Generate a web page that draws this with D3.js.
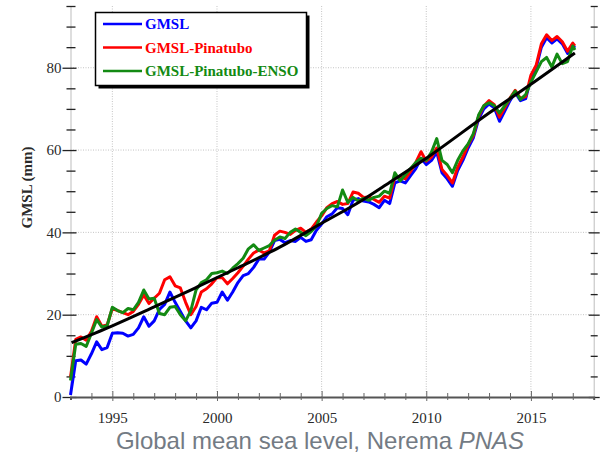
<!DOCTYPE html>
<html>
<head>
<meta charset="utf-8">
<title>Global mean sea level</title>
<script src="https://d3js.org/d3.v7.min.js"></script>
<style>
  body { margin: 0; background: #fff; }
  .tick text { font-family: "Liberation Serif", "Times New Roman", serif; font-size: 15px; fill: #2a2a2a; }
  .grid line { stroke: #c4c4c4; stroke-width: 1; stroke-dasharray: 1,1.5; }
  .series { fill: none; stroke-width: 3; stroke-linejoin: round; }
</style>
</head>
<body>
<svg id="chart" width="605" height="455"></svg>
<script>
// time axis of the series (quarterly readings)
const years = [
  1993, 1993.25, 1993.5, 1993.75, 1994, 1994.25, 1994.5, 1994.75,
  1995, 1995.25, 1995.5, 1995.75, 1996, 1996.25, 1996.5, 1996.75,
  1997, 1997.25, 1997.5, 1997.75, 1998, 1998.25, 1998.5, 1998.75,
  1999, 1999.25, 1999.5, 1999.75, 2000, 2000.25, 2000.5, 2000.75,
  2001, 2001.25, 2001.5, 2001.75, 2002, 2002.25, 2002.5, 2002.75,
  2003, 2003.25, 2003.5, 2003.75, 2004, 2004.25, 2004.5, 2004.75,
  2005, 2005.25, 2005.5, 2005.75, 2006, 2006.25, 2006.5, 2006.75,
  2007, 2007.25, 2007.5, 2007.75, 2008, 2008.25, 2008.5, 2008.75,
  2009, 2009.25, 2009.5, 2009.75, 2010, 2010.25, 2010.5, 2010.75,
  2011, 2011.25, 2011.5, 2011.75, 2012, 2012.25, 2012.5, 2012.75,
  2013, 2013.25, 2013.5, 2013.75, 2014, 2014.25, 2014.5, 2014.75,
  2015, 2015.25, 2015.5, 2015.75, 2016, 2016.25, 2016.5, 2016.75,
  2017, 2017.1
];

const gmsl = [
  0.5, 8.8, 9.0, 8.0, 10.5, 13.4, 11.5, 12.0,
  15.5, 15.6, 15.5, 14.8, 15.2, 16.8, 19.5, 17.2,
  18.5, 21.3, 22.5, 25.5, 23.0, 20.8, 18.5, 16.8,
  18.5, 21.8, 21.2, 22.8, 23.0, 25.5, 23.5, 25.5,
  27.8, 29.5, 30.0, 31.5, 33.5, 33.5, 35.2, 38.0,
  38.3, 37.5, 38.0, 37.8, 38.8, 37.8, 38.2, 40.5,
  42.0, 43.8, 44.5, 46.0, 45.8, 44.3, 47.8, 48.2,
  47.6, 47.4, 46.8, 46.0, 47.8, 47.0, 52.0, 52.5,
  52.0, 53.8, 55.5, 58.0, 56.5, 57.5, 59.5, 54.5,
  53.0, 51.2, 55.0, 57.5, 60.5, 63.0, 67.5, 70.0,
  71.2, 70.3, 67.0, 69.5, 72.0, 74.0, 72.0, 72.5,
  77.5, 80.0, 85.0, 87.3, 86.0, 87.0, 85.8, 83.5,
  85.5, 84.8
];

const gmslPinatubo = [
  4.8, 14.0, 14.6, 13.8, 16.0, 19.5, 17.2, 17.5,
  21.5, 21.0, 20.5, 20.0, 20.8, 22.5, 24.8, 22.7,
  24.0, 25.2, 28.5, 29.2, 27.0, 26.5, 23.0, 20.0,
  22.0, 25.5, 26.3, 27.5, 29.0, 29.0, 27.5, 28.8,
  30.2, 31.8, 33.5, 35.0, 35.7, 35.0, 35.5, 39.3,
  40.3, 40.0, 39.5, 40.5, 41.0, 40.0, 40.8, 42.5,
  44.0, 46.0, 47.0, 47.5, 46.8, 47.0, 49.8, 49.5,
  48.5, 48.6, 48.0, 47.3, 48.8, 48.3, 53.6, 53.5,
  53.0, 54.8, 57.0, 59.6, 57.3, 58.3, 60.5, 55.3,
  53.8, 52.0, 55.8, 58.3, 61.3, 63.6, 68.2, 70.7,
  72.0, 71.0, 68.0, 70.3, 72.6, 74.5, 72.5, 73.0,
  78.2, 80.6, 85.8, 88.0, 86.6, 87.6, 86.3, 84.0,
  86.0, 85.3
];

const gmslPinatuboEnso = [
  4.0, 12.8, 13.0, 12.3, 15.5, 18.8, 17.0, 17.3,
  21.8, 21.0, 20.5, 21.5, 21.2, 23.0, 26.0, 23.8,
  24.0, 20.3, 20.0, 21.8, 22.0, 20.0, 18.5, 21.0,
  26.0, 27.8, 28.5, 30.0, 30.2, 30.6, 30.0, 31.3,
  32.4, 33.7, 36.0, 37.0, 35.6, 36.2, 36.8, 38.1,
  38.9, 38.5, 40.0, 40.8, 40.0, 39.2, 40.2, 41.5,
  44.6, 45.8, 46.5, 46.2, 50.3, 47.3, 48.5, 47.6,
  48.3, 47.8, 48.5, 48.8, 50.0, 49.5, 54.5, 52.5,
  54.0, 55.5, 57.0, 58.0, 57.5, 59.5, 62.8, 57.5,
  56.5, 54.5, 57.5, 59.8, 61.5, 64.0, 68.5, 70.8,
  71.5, 70.8, 69.0, 70.8, 72.5, 74.3, 72.3, 73.5,
  76.5, 79.0, 81.5, 82.5, 80.2, 83.3, 81.0, 81.5,
  85.3, 84.3
];

// fitted trend (black curve)
const trendYears = [1993.05, 1995, 1997, 1999, 2001, 2003, 2005, 2007, 2008, 2010, 2013, 2015, 2017.1];
const trendValues = [13.2, 17.3, 21.9, 26.6, 31.4, 36.4, 42.2, 48.0, 51.3, 58.0, 69.0, 76.0, 83.6];

const yearTicks = [1995, 2000, 2005, 2010, 2015];
const yMajorTicks = [0, 20, 40, 60, 80];
const legendLabels = ["GMSL", "GMSL-Pinatubo", "GMSL-Pinatubo-ENSO"];
const legendColors = ["#0000ff", "#ff0000", "#138a13"];

const svg = d3.select("#chart");

const x = d3.scaleLinear().domain([1993, 2018]).range([70.5, 593.7]);
const y = d3.scaleLinear().domain([0, 95]).range([397, 6]);

// dotted grid
const grid = svg.append("g").attr("class", "grid");
grid.selectAll(".vg").data(yearTicks).enter().append("line")
  .attr("x1", d => x(d)).attr("x2", d => x(d))
  .attr("y1", y(0)).attr("y2", y(95));
grid.selectAll(".hg").data(yMajorTicks.filter(d => d > 0)).enter().append("line")
  .attr("x1", x(1993)).attr("x2", x(2018))
  .attr("y1", d => y(d)).attr("y2", d => y(d));

// left axis
const yMinor = d3.range(5, 96, 5).filter(d => d % 20 !== 0);
const leftMinor = svg.append("g").attr("transform", "translate(" + x(1993) + ",0)")
  .call(d3.axisLeft(y).tickValues(yMinor).tickFormat("").tickSize(4));
leftMinor.select(".domain").attr("stroke", "#bdbdbd");
leftMinor.selectAll(".tick line").attr("x1", 5).attr("x2", -4).attr("stroke", "#222").attr("stroke-width", 1.3);

const leftMajor = svg.append("g").attr("transform", "translate(" + x(1993) + ",0)")
  .call(d3.axisLeft(y).tickValues(yMajorTicks).tickSize(8).tickPadding(1));
leftMajor.select(".domain").remove();
leftMajor.selectAll(".tick line").attr("x1", 6).attr("x2", -8).attr("stroke", "#222").attr("stroke-width", 1.3);

// right axis
const rightMinor = svg.append("g").attr("transform", "translate(" + x(2018) + ",0)")
  .call(d3.axisRight(y).tickValues(yMinor).tickFormat("").tickSize(4));
rightMinor.select(".domain").attr("stroke", "#bdbdbd");
rightMinor.selectAll(".tick line").attr("x1", -3).attr("x2", 4).attr("stroke", "#222").attr("stroke-width", 1.3);
const rightMajor = svg.append("g").attr("transform", "translate(" + x(2018) + ",0)")
  .call(d3.axisRight(y).tickValues(yMajorTicks).tickFormat("").tickSize(6));
rightMajor.select(".domain").remove();
rightMajor.selectAll(".tick line").attr("x1", -5).attr("x2", 6).attr("stroke", "#222").attr("stroke-width", 1.3);

// bottom axis
const xMinor = d3.range(1994, 2018).filter(d => d % 5 !== 0);
const bottomMinor = svg.append("g").attr("transform", "translate(0," + y(0) + ")")
  .call(d3.axisBottom(x).tickValues(xMinor).tickFormat("").tickSize(3));
bottomMinor.select(".domain").attr("stroke", "#555").attr("stroke-width", 2);
bottomMinor.selectAll(".tick line").attr("y1", -4).attr("y2", 3).attr("stroke", "#666");
const bottomMajor = svg.append("g").attr("transform", "translate(0," + y(0) + ")")
  .call(d3.axisBottom(x).tickValues(yearTicks).tickFormat(d3.format("d")).tickSize(4));
bottomMajor.select(".domain").remove();
bottomMajor.selectAll(".tick line").attr("y1", -6).attr("y2", 4).attr("stroke", "#666");
bottomMajor.selectAll(".tick text").attr("y", 15);

// series
const line = d3.line()
  .x((d, i) => x(years[i]))
  .y(d => y(d));

svg.append("path").datum(gmsl).attr("class", "series")
  .attr("stroke", legendColors[0]).attr("d", line);
svg.append("path").datum(gmslPinatubo).attr("class", "series")
  .attr("stroke", legendColors[1]).attr("d", line);
svg.append("path").datum(gmslPinatuboEnso).attr("class", "series")
  .attr("stroke", legendColors[2]).attr("d", line);

const trendLine = d3.line()
  .x((d, i) => x(trendYears[i]))
  .y(d => y(d))
  .curve(d3.curveMonotoneX);
svg.append("path").datum(trendValues)
  .attr("fill", "none").attr("stroke", "#000").attr("stroke-width", 3)
  .attr("d", trendLine);

// y axis title
svg.append("text")
  .attr("transform", "translate(32,187.5) rotate(-90)")
  .attr("text-anchor", "middle")
  .style("font-family", '"Liberation Serif", "Times New Roman", serif')
  .style("font-weight", "bold")
  .style("font-size", "15px")
  .attr("fill", "#2a2a2a")
  .text("GMSL (mm)");

// legend
const legend = svg.append("g");
legend.append("rect").attr("x", 98.5).attr("y", 15.5).attr("width", 211).attr("height", 73).attr("fill", "#000");
legend.append("rect").attr("x", 95.5).attr("y", 12.5).attr("width", 211).attr("height", 73)
  .attr("fill", "#fff").attr("stroke", "#000").attr("stroke-width", 1.5);
legendLabels.forEach((label, i) => {
  const ly = 24 + i * 23.5;
  legend.append("line").attr("x1", 103).attr("x2", 142).attr("y1", ly).attr("y2", ly)
    .attr("stroke", legendColors[i]).attr("stroke-width", 2.5);
  legend.append("text").attr("x", 145).attr("y", ly + 5)
    .style("font-family", '"Liberation Serif", "Times New Roman", serif')
    .style("font-weight", "bold")
    .style("font-size", "15px")
    .attr("fill", legendColors[i])
    .text(label);
});

// caption
const caption = svg.append("text")
  .attr("x", 320).attr("y", 449)
  .attr("text-anchor", "middle")
  .style("font-family", '"Liberation Sans", Arial, sans-serif')
  .style("font-size", "24px")
  .attr("fill", "#737b84");
caption.append("tspan").text("Global mean sea level, Nerema ");
caption.append("tspan").style("font-style", "italic").text("PNAS");
</script>
</body>
</html>
